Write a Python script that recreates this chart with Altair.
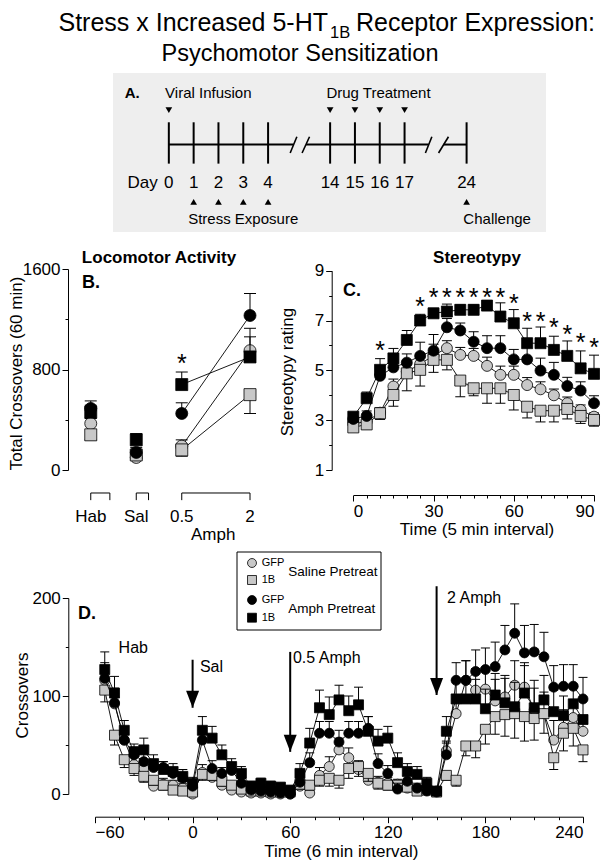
import altair as alt
import pandas as pd

FONT = "Liberation Sans"
GRAY = "#c8c8c8"
BOX = "#eeeeee"

# ---------------- series styling ----------------
series_names = ["GFP Saline", "1B Saline", "GFP Amph", "1B Amph"]
series_shapes = ["circle", "square", "circle", "square"]
series_fills = [GRAY, GRAY, "black", "black"]
error_side = [1, -1, 1, 1]

# ---------------- Panel A : timeline ----------------
day_labels = ["0", "1", "2", "3", "4", "14", "15", "16", "17", "24"]
day_slots = [0, 1, 2, 3, 4, 6.5, 7.5, 8.5, 9.5, 12]
infusion_treatment_slots = [0, 6.5, 7.5, 8.5, 9.5]
stress_challenge_slots = [1, 2, 3, 4, 12]
segment_start = [0, 5.53, 11.07]
segment_end = [5.03, 10.47, 12]
slash_start = [4.89, 5.37, 10.34, 10.87]
slash_end = [5.16, 5.67, 10.60, 11.27]

# ---------------- Panel B : locomotor totals ----------------
b_groups = ["Hab", "Sal", "0.5", "2"]
b_slots = [0, 1, 2, 3.5]
b_means = [
    [370, 100, 190, 950],
    [280, 120, 160, 600],
    [490, 140, 450, 1230],
    [460, 240, 680, 900],
]
b_sems = [
    [40, 30, 50, 178],
    [40, 30, 50, 150],
    [60, 40, 85, 175],
    [55, 50, 100, 160],
]
b_bracket_start = [0, 1, 2]
b_bracket_end = [0.42, 1.27, 3.5]
b_star_slot = [2]
b_star_height = [890]

# ---------------- Panel C : stereotypy ----------------
c_time = [0, 5, 10, 15, 20, 25, 30, 35, 40, 45, 50, 55, 60, 65, 70, 75, 80, 85, 90]
c_means = [
    [2.85, 2.95, 3.30, 4.35, 4.95, 5.25, 5.60, 5.89, 5.62, 5.58, 5.18, 4.82, 4.82, 4.41, 4.24, 4.00, 3.68, 3.41, 3.14],
    [2.71, 2.83, 3.28, 4.01, 4.88, 5.02, 5.42, 5.42, 4.59, 4.28, 4.28, 4.28, 4.01, 3.54, 3.38, 3.38, 3.45, 3.17, 3.01],
    [3.05, 3.17, 4.78, 5.12, 5.31, 5.58, 5.79, 6.73, 6.60, 6.15, 5.89, 5.89, 5.44, 5.44, 4.99, 4.82, 4.37, 4.19, 3.68],
    [3.14, 3.88, 5.02, 5.48, 6.22, 7.00, 7.29, 7.36, 7.43, 7.43, 7.60, 7.16, 6.89, 6.09, 6.09, 5.82, 5.58, 5.08, 4.86],
]
c_sems = [
    [0.15, 0.15, 0.20, 0.30, 0.35, 0.40, 0.45, 0.30, 0.30, 0.30, 0.35, 0.35, 0.35, 0.30, 0.30, 0.25, 0.25, 0.20, 0.15],
    [0.15, 0.20, 0.25, 0.45, 0.70, 0.65, 0.50, 0.40, 0.65, 0.30, 0.60, 0.60, 0.60, 0.45, 0.45, 0.45, 0.40, 0.30, 0.25],
    [0.15, 0.20, 0.30, 0.30, 0.35, 0.55, 0.65, 0.35, 0.30, 0.40, 0.50, 0.50, 0.40, 0.50, 0.50, 0.50, 0.35, 0.35, 0.30],
    [0.15, 0.25, 0.45, 0.40, 0.38, 0.25, 0.20, 0.30, 0.20, 0.20, 0.20, 0.55, 0.55, 0.60, 0.65, 0.55, 0.60, 0.70, 0.75],
]
c_star_time = [10, 25, 30, 35, 40, 45, 50, 55, 60, 65, 70, 75, 80, 85, 90]
c_star_height = [6.0, 7.8, 8.15, 8.15, 8.15, 8.15, 8.15, 8.15, 7.9, 7.2, 7.2, 6.95, 6.65, 6.35, 6.15]

# ---------------- Panel D : time course ----------------
d_time = [-54, -48, -42, -36, -30, -24, -18, -12, -6, 0,
          6, 12, 18, 24, 30, 36, 42, 48, 54, 60,
          66, 72, 78, 84, 90, 96, 102, 108, 114, 120, 126, 132, 138, 144, 150,
          156, 162, 168, 174, 180, 186, 192, 198, 204, 210, 216, 222, 228, 234, 240]
d_means = [
    [116, 92, 55, 30, 26, 8, 10, 9, 6, 0,
     22, 17, 9, 4, 2, 1, 1, 0, 0, 0,
     8, 1, 19, 28, 45, 37, 25, 14, 12, 11, 10, 6, 5, 4, 3,
     44, 82, 116, 106, 107, 95, 99, 111, 109, 86, 82, 55, 68, 78, 64],
    [106, 60, 35, 26, 18, 14, 9, 4, 3, 2,
     20, 19, 13, 9, 5, 3, 3, 2, 2, 2,
     10, 9, 14, 16, 14, 26, 28, 21, 11, 9, 9, 7, 3, 4, 2,
     19, 14, 49, 49, 66, 79, 81, 82, 79, 77, 82, 37, 62, 67, 45],
    [118, 93, 55, 40, 33, 27, 27, 21, 16, 8,
     55, 26, 21, 24, 11, 4, 3, 2, 1, 0,
     12, 32, 62, 62, 53, 62, 62, 67, 31, 21, 5, 13, 6, 3, 2,
     40, 116, 116, 125, 127, 130, 147, 164, 144, 145, 140, 109, 110, 110, 97],
    [127, 103, 65, 43, 45, 31, 25, 23, 18, 11,
     65, 57, 40, 28, 21, 8, 11, 8, 7, 4,
     21, 52, 88, 81, 96, 85, 91, 64, 54, 57, 32, 23, 20, 11, 3,
     64, 97, 97, 97, 87, 101, 93, 89, 103, 88, 96, 84, 80, 92, 76],
]
d_sems = [
    [15, 12, 10, 8, 7, 6, 6, 5, 5, 4,
     8, 6, 5, 4, 3, 3, 3, 3, 3, 3,
     5, 5, 8, 10, 12, 10, 9, 7, 6, 6, 5, 5, 4, 4, 3,
     10, 15, 20, 22, 22, 22, 22, 25, 25, 22, 22, 20, 18, 18, 16],
    [12, 10, 8, 7, 6, 5, 5, 4, 4, 3,
     6, 5, 5, 4, 3, 3, 3, 3, 3, 3,
     5, 5, 6, 8, 8, 10, 10, 8, 6, 5, 5, 4, 4, 3, 3,
     5, 6, 10, 12, 15, 18, 22, 25, 25, 22, 20, 12, 18, 18, 12],
    [16, 15, 10, 8, 8, 7, 6, 6, 5, 5,
     10, 8, 6, 6, 5, 4, 4, 3, 3, 3,
     6, 10, 12, 12, 12, 12, 12, 12, 10, 8, 6, 6, 5, 4, 4,
     12, 18, 20, 22, 22, 25, 25, 30, 28, 28, 25, 22, 22, 22, 22],
    [18, 17, 10, 8, 12, 9, 8, 8, 7, 6,
     14, 12, 10, 8, 7, 5, 5, 5, 4, 4,
     10, 15, 18, 18, 15, 15, 18, 15, 12, 12, 10, 8, 8, 6, 4,
     15, 20, 20, 20, 20, 22, 25, 25, 28, 28, 25, 22, 20, 20, 20],
]
d_arrow_time = [0, 60, 150]
d_arrow_top = [137, 145, 212]
d_arrow_tip = [88, 43, 101]
d_label_text = ["Hab", "Sal", "0.5 Amph", "2 Amph"]
d_label_time = [-45.5, 4.5, 61.7, 156.4]
d_label_height = [149, 130, 139, 200]

# ---------------- scales (pixel ranges of each panel) ----------------
A_X = alt.Scale(domain=[-2.25, 15.2], range=[105, 538], nice=False, zero=False)
A_Y = alt.Scale(domain=[-5.5, 4.5], range=[224, 65], nice=False, zero=False)
B_X = alt.Scale(domain=[-0.5, 4.0], range=[60, 264.75], nice=False, zero=False)
B_Y = alt.Scale(domain=[0, 1600], range=[462, 261], nice=False, zero=False)
C_X = alt.Scale(domain=[0, 90], range=[345.3, 586], nice=False, zero=False)
C_Y = alt.Scale(domain=[1, 9], range=[462, 262.7], nice=False, zero=False)
D_X = alt.Scale(domain=[-60, 240], range=[87, 575], nice=False, zero=False)
D_Y = alt.Scale(domain=[0, 200], range=[786, 590], nice=False, zero=False)


def minor_size(test):
    return {"condition": {"test": test, "value": 6}, "value": 3}


def long_df(xs, means, sems):
    rows = []
    for si, name in enumerate(series_names):
        for xv, m, s in zip(xs, means[si], sems[si]):
            rows.append({"series": name, "x": xv, "y": m, "err": m + error_side[si] * s})
    return pd.DataFrame(rows)


def series_layers(df, X, Y, Yerr, size, cap, line_df=None):
    out = []
    for i, name in enumerate(series_names):
        sub = df[df.series == name]
        ldf = sub if line_df is None else line_df[line_df.series == name]
        out.append(alt.Chart(ldf).mark_line(color="black", strokeWidth=0.9).encode(X, Y))
        out.append(alt.Chart(sub).mark_rule(color="black", strokeWidth=1).encode(X, Y, y2="err:Q"))
        out.append(alt.Chart(sub).mark_tick(orient="horizontal", size=cap, thickness=1,
                                            color="black", opacity=1).encode(X, Yerr))
        out.append(alt.Chart(sub).mark_point(shape=series_shapes[i], filled=True, fill=series_fills[i],
                                             stroke="black", strokeWidth=0.8, size=size,
                                             opacity=1).encode(X, Y))
    return out


def px_text(text, x, y, size=17, weight="normal", align="left", baseline="alphabetic", font=FONT):
    return alt.Chart(pd.DataFrame({"t": [text]})).mark_text(
        align=align, baseline=baseline, fontSize=size, fontWeight=weight, font=font,
        color="black", fill="black"
    ).encode(x=alt.value(x), y=alt.value(y), text="t:N")


# ---------------- title ----------------
title_layers = [
    px_text("Stress x Increased 5-HT", 320, 22.8, size=25, align="right"),
    px_text("1B", 322, 29.5, size=16.5),
    px_text("Receptor Expression:", 348, 22.8, size=25),
    px_text("Psychomotor Sensitization", 292, 52.5, size=23.5, align="center"),
]

# ---------------- Panel A ----------------
AX = alt.X("p:Q", scale=A_X, axis=None)
AY = alt.Y("q:Q", scale=A_Y, axis=None)


def a_text(text, p, q, size=15, weight="normal", align="left"):
    return alt.Chart(pd.DataFrame({"p": [p], "q": [q], "t": [text]})).mark_text(
        align=align, baseline="middle", fontSize=size, fontWeight=weight, font=FONT,
        color="black", fill="black"
    ).encode(AX, AY, text="t:N")


a_box = alt.Chart(pd.DataFrame({"p": [-2.25], "p2": [15.2], "q": [-5.5], "q2": [4.5]})).mark_rect(
    color=BOX).encode(AX, AY, x2="p2:Q", y2="q2:Q")
a_line = alt.Chart(pd.DataFrame({"p": segment_start, "p2": segment_end, "q": [0] * 3})).mark_rule(
    color="black", strokeWidth=2).encode(AX, AY, x2="p2:Q")
a_ticks = alt.Chart(pd.DataFrame({"p": day_slots, "q": [-1.2] * 10, "q2": [1.4] * 10})).mark_rule(
    color="black", strokeWidth=2).encode(AX, AY, y2="q2:Q")
a_slash = alt.Chart(pd.DataFrame({"p": slash_start, "p2": slash_end, "q": [-0.53] * 4, "q2": [0.49] * 4})).mark_rule(
    color="black", strokeWidth=1.6).encode(AX, AY, x2="p2:Q", y2="q2:Q")
a_down = alt.Chart(pd.DataFrame({"p": infusion_treatment_slots, "q": [2.17] * 5})).mark_point(
    shape="triangle-down", filled=True, color="black", size=45, opacity=1).encode(AX, AY)
a_up = alt.Chart(pd.DataFrame({"p": stress_challenge_slots, "q": [-3.61] * 5})).mark_point(
    shape="triangle-up", filled=True, color="black", size=45, opacity=1).encode(AX, AY)
a_days = alt.Chart(pd.DataFrame({"p": day_slots, "q": [-2.42] * 10, "t": day_labels})).mark_text(
    align="center", baseline="middle", fontSize=17, font=FONT, color="black", fill="black").encode(AX, AY, text="t:N")
panel_a = alt.layer(
    a_box, a_line, a_ticks, a_slash, a_down, a_up, a_days,
    a_text("Day", -0.45, -2.42, size=17, align="right"),
    a_text("A.", -1.78, 3.24, size=15, weight="bold"),
    a_text("Viral Infusion", -0.15, 3.24),
    a_text("Drug Treatment", 6.35, 3.24),
    a_text("Stress Exposure", 0.78, -4.68),
    a_text("Challenge", 11.87, -4.68),
)

# ---------------- Panel B ----------------
b_axis = alt.Axis(values=[0, 400, 800, 1200, 1600], format="d",
                  labelExpr="datum.value % 800 === 0 ? datum.label : ''",
                  tickSize=minor_size("datum.value % 800 === 0"),
                  orient="left", offset=-60, title="Total Crossovers (60 min)",
                  titleX=-52, titleY=365, titleBaseline="middle", titleAngle=-90)
BX = alt.X("x:Q", scale=B_X, axis=None)
BY = alt.Y("y:Q", scale=B_Y, axis=b_axis)
BYE = alt.Y("err:Q", scale=B_Y, axis=b_axis)
b_df = long_df(b_slots, b_means, b_sems)
b_line_df = b_df[b_df.x >= 2]
b_brackets = alt.Chart(pd.DataFrame({"x": b_bracket_start, "x2": b_bracket_end, "y": [-183] * 3})).mark_rule(
    color="black", strokeWidth=1).encode(BX, BY, x2="x2:Q")
b_bracket_ticks = alt.Chart(pd.DataFrame({"x": b_bracket_start + b_bracket_end,
                                          "y": [-183] * 6, "y2": [-240] * 6})).mark_rule(
    color="black", strokeWidth=1).encode(BX, BY, y2="y2:Q")
b_labels = alt.Chart(pd.DataFrame({"x": b_slots, "y": [-374] * 4, "t": b_groups})).mark_text(
    align="center", baseline="middle", fontSize=17, font=FONT, color="black", fill="black").encode(BX, BY, text="t:N")
b_amph = alt.Chart(pd.DataFrame({"x": [2.69], "y": [-517], "t": ["Amph"]})).mark_text(
    align="center", baseline="middle", fontSize=17, font=FONT, color="black", fill="black").encode(BX, BY, text="t:N")
b_star = alt.Chart(pd.DataFrame({"x": b_star_slot, "y": b_star_height, "t": ["*"]})).mark_text(
    align="center", baseline="middle", fontSize=25, font=FONT, dy=6,
    color="black", fill="black").encode(BX, BY, text="t:N")
panel_b = alt.layer(*series_layers(b_df, BX, BY, BYE, 144, 12, b_line_df),
                    b_brackets, b_bracket_ticks, b_labels, b_amph, b_star)

# ---------------- Panel C ----------------
c_yaxis = alt.Axis(values=[1, 2, 3, 4, 5, 6, 7, 8, 9], format="d",
                   labelExpr="datum.value % 2 === 1 ? datum.label : ''",
                   tickSize=minor_size("datum.value % 2 === 1"),
                   orient="left", offset=-323.7, title="Stereotypy rating",
                   titleX=-44.7, titleY=363.5, titleBaseline="middle", titleAngle=-90)
c_xaxis = alt.Axis(values=c_time, format="d",
                   labelExpr="datum.value % 30 === 0 ? datum.label : ''",
                   tickSize=minor_size("datum.value % 30 === 0"),
                   orient="bottom", offset=-365, title="Time (5 min interval)",
                   titleX=468.5, titleY=34, titleBaseline="middle")
CX = alt.X("x:Q", scale=C_X, axis=c_xaxis)
CY = alt.Y("y:Q", scale=C_Y, axis=c_yaxis)
CYE = alt.Y("err:Q", scale=C_Y, axis=c_yaxis)
c_df = long_df(c_time, c_means, c_sems)
c_star = alt.Chart(pd.DataFrame({"x": c_star_time, "y": c_star_height, "t": ["*"] * len(c_star_time)})).mark_text(
    align="center", baseline="middle", fontSize=25, font=FONT, dy=6,
    color="black", fill="black").encode(CX, CY, text="t:N")
panel_c = alt.layer(*series_layers(c_df, CX, CY, CYE, 121, 10), c_star)

# ---------------- Panel D ----------------
d_yaxis = alt.Axis(values=[0, 50, 100, 150, 200], format="d",
                   labelExpr="datum.value % 100 === 0 ? datum.label : ''",
                   tickSize=minor_size("datum.value % 100 === 0"),
                   orient="left", offset=-60.3, title="Crossovers",
                   titleX=-46.3, titleY=687, titleBaseline="middle", titleAngle=-90)
d_xaxis = alt.Axis(values=[-60, -45, -30, -15, 0, 15, 30, 45, 60, 75, 90, 105, 120, 135, 150,
                           165, 180, 195, 210, 225, 240], format="d",
                   labelExpr="datum.value % 60 === 0 ? datum.label : ''",
                   tickSize=minor_size("datum.value % 60 === 0"),
                   orient="bottom", offset=-43.3, title="Time (6 min interval)",
                   titleX=332.8, titleY=35, titleBaseline="middle")
DX = alt.X("x:Q", scale=D_X, axis=d_xaxis)
DY = alt.Y("y:Q", scale=D_Y, axis=d_yaxis)
DYE = alt.Y("err:Q", scale=D_Y, axis=d_yaxis)
d_df = long_df(d_time, d_means, d_sems)
d_arrows = alt.Chart(pd.DataFrame({"x": d_arrow_time, "y": d_arrow_top, "y2": d_arrow_tip})).mark_rule(
    color="black", strokeWidth=2).encode(DX, DY, y2="y2:Q")
d_heads = alt.Chart(pd.DataFrame({"x": d_arrow_time, "y": d_arrow_tip})).mark_point(
    shape="M-0.65,-1.7L0.65,-1.7L0,0Z", filled=True, color="black", size=400, opacity=1).encode(DX, DY)
d_labels = alt.Chart(pd.DataFrame({"x": d_label_time, "y": d_label_height, "t": d_label_text})).mark_text(
    align="left", baseline="middle", fontSize=16, font=FONT, color="black", fill="black").encode(DX, DY, text="t:N")
panel_d = alt.layer(*series_layers(d_df, DX, DY, DYE, 100, 9), d_arrows, d_heads, d_labels)

# ---------------- legend (drawn box) ----------------
legend_layers = [
    alt.Chart(pd.DataFrame({"a": [0]})).mark_rect(fill="white", stroke="black", strokeWidth=1).encode(
        x=alt.value(229), x2=alt.value(373), y=alt.value(544), y2=alt.value(622)),
]
legend_marks = [(555, "circle", GRAY, "GFP"), (572, "square", GRAY, "1B"),
                (592, "circle", "black", "GFP"), (609.7, "square", "black", "1B")]
for yy, shp, fl, lab in legend_marks:
    legend_layers.append(alt.Chart(pd.DataFrame({"a": [0]})).mark_point(
        shape=shp, filled=True, fill=fl, stroke="black", strokeWidth=0.8, size=80, opacity=1).encode(
        x=alt.value(244), y=alt.value(yy)))
    legend_layers.append(px_text(lab, 253.7, yy, size=11, baseline="middle"))
legend_layers.append(px_text("Saline Pretreat", 280.3, 564, size=13.5, baseline="middle"))
legend_layers.append(px_text("Amph Pretreat", 280.3, 601, size=13.5, baseline="middle"))

# ---------------- panel letters / titles ----------------
headers = [
    px_text("Locomotor Activity", 151, 250, size=17, weight="bold", align="center", baseline="middle"),
    px_text("Stereotypy", 469, 250, size=17, weight="bold", align="center", baseline="middle"),
    px_text("B.", 74, 275, size=18, weight="bold", baseline="middle"),
    px_text("C.", 335, 283, size=18, weight="bold", baseline="middle"),
    px_text("D.", 70, 606, size=18, weight="bold", baseline="middle"),
]

chart = alt.layer(
    *title_layers, panel_a, panel_b, panel_c, panel_d, *legend_layers, *headers
).resolve_scale(
    x="independent", y="independent"
).properties(
    width=595, height=852, padding=0, autosize=alt.AutoSizeParams(type="none"), background="white"
).configure_view(
    stroke=None
).configure_axis(
    grid=False, domainColor="black", tickColor="black", labelColor="black", titleColor="black",
    labelFont=FONT, titleFont=FONT, labelFontSize=17, titleFontSize=17, titleFontWeight="normal",
    domainWidth=1, tickWidth=1, labelPadding=2
)

chart.save("out.html", embed_options={"renderer": "svg", "actions": False})
